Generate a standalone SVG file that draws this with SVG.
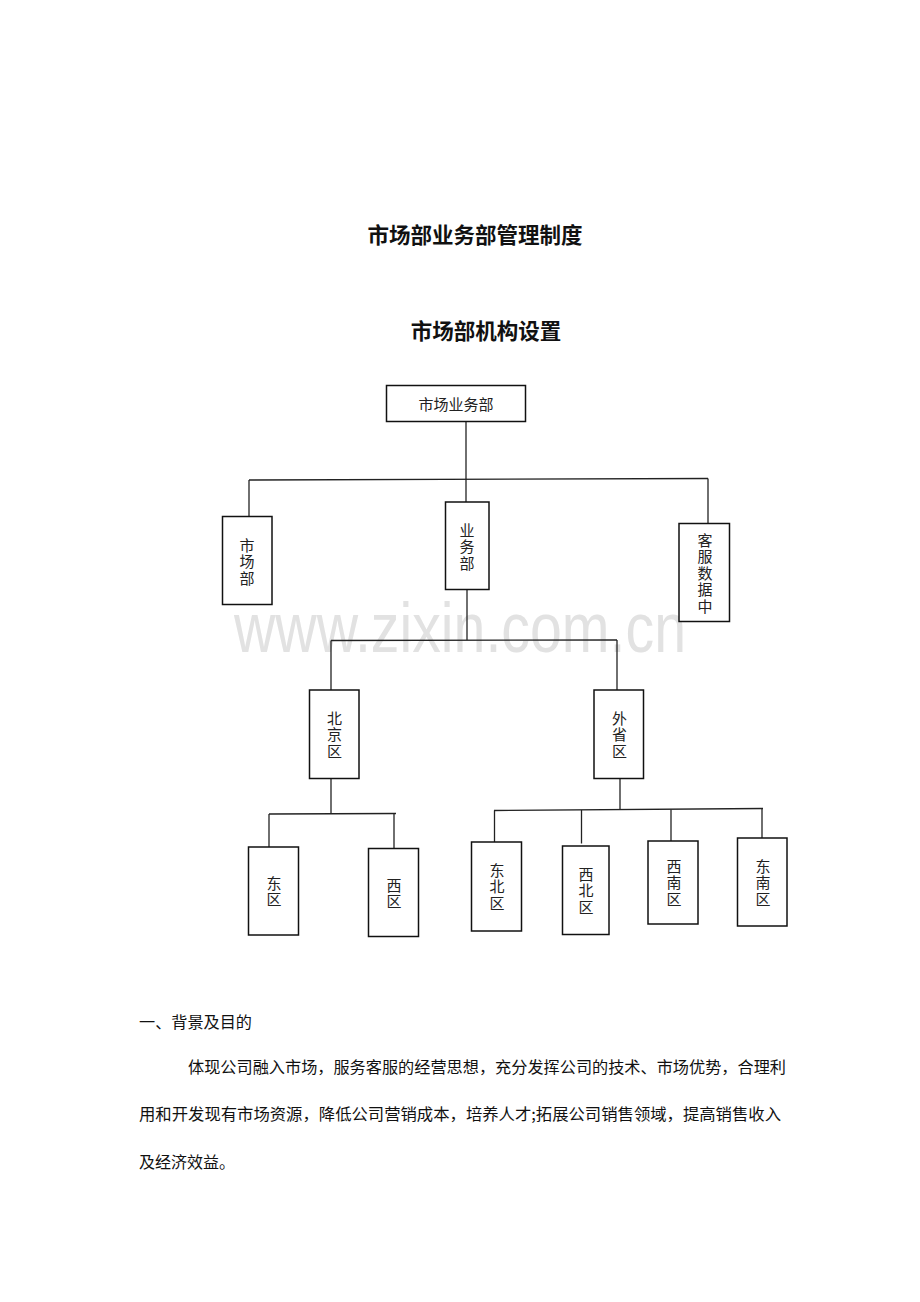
<svg xmlns="http://www.w3.org/2000/svg" width="920" height="1302" viewBox="0 0 920 1302">
<style>
.bg{fill:#ffffff}
.box{fill:#ffffff;stroke:#111;stroke-width:1.5}
.con{stroke:#222;stroke-width:1.3;fill:none}
.nt{font-family:"Noto Sans CJK SC","Noto Sans CJK JP",sans-serif;font-size:15px;fill:#222;text-anchor:middle;dominant-baseline:central}
.vt{font-family:"Noto Sans CJK SC","Noto Sans CJK JP",sans-serif;font-size:15px;fill:#222;writing-mode:vertical-rl;text-orientation:upright;letter-spacing:1.5px}
.h{font-family:"Noto Sans CJK SC","Noto Sans CJK JP",sans-serif;font-size:21.5px;font-weight:bold;fill:#111;text-anchor:middle;dominant-baseline:central}
.p{font-family:"Noto Sans CJK SC","Noto Sans CJK JP",sans-serif;font-size:16px;fill:#111;dominant-baseline:central}
.wm{font-family:"Liberation Sans",Arial,sans-serif;font-size:70px;fill:#e2e2e2}
</style>
<rect class="bg" x="0" y="0" width="920" height="1302"/>
<text class="wm" x="234" y="652" textLength="452" lengthAdjust="spacingAndGlyphs">www.zixin.com.cn</text>
<text class="h" x="475" y="233">市场部业务部管理制度</text>
<text class="h" x="486" y="329">市场部机构设置</text>
<g id="connectors">
<line class="con" x1="466" y1="421" x2="466" y2="502"/>
<line class="con" x1="249" y1="480" x2="708" y2="478.5"/>
<line class="con" x1="249" y1="480" x2="249" y2="516"/>
<line class="con" x1="708" y1="478.5" x2="708" y2="523"/>
<line class="con" x1="467" y1="589" x2="467" y2="640"/>
<line class="con" x1="331" y1="640.5" x2="617" y2="640"/>
<line class="con" x1="331" y1="640.5" x2="331" y2="690"/>
<line class="con" x1="617" y1="640" x2="617" y2="690"/>
<line class="con" x1="331" y1="778" x2="331" y2="813.5"/>
<line class="con" x1="269" y1="814" x2="396" y2="813.5"/>
<line class="con" x1="269" y1="814" x2="269" y2="847"/>
<line class="con" x1="394" y1="813.5" x2="394" y2="848"/>
<line class="con" x1="620" y1="778" x2="620" y2="809.5"/>
<line class="con" x1="494" y1="810.5" x2="763" y2="808.5"/>
<line class="con" x1="494.5" y1="810.5" x2="494.5" y2="842"/>
<line class="con" x1="581.5" y1="810" x2="581.5" y2="843.5"/>
<line class="con" x1="671" y1="809.5" x2="671" y2="841"/>
<line class="con" x1="762" y1="808.5" x2="762" y2="838"/>
</g>
<g id="n-top">
<rect class="box" x="386.5" y="385.5" width="139" height="36"/>
<text class="nt" x="456" y="403" font-size="15.5">市场业务部</text>
</g>
<g id="n-market">
<rect class="box" x="222.5" y="516.5" width="49.5" height="88"/>
<text class="vt" x="247" y="537.5" letter-spacing="2">市场部</text>
</g>
<g id="n-business">
<rect class="box" x="445.5" y="502" width="43.5" height="87.5"/>
<text class="vt" x="467" y="522.5">业务部</text>
</g>
<g id="n-service">
<rect class="box" x="679" y="523.5" width="50.5" height="98"/>
<text class="vt" x="705" y="532.5">客服数据中</text>
</g>
<g id="n-beijing">
<rect class="box" x="309.5" y="690" width="49.5" height="88.5"/>
<text class="vt" x="334.5" y="710.5" letter-spacing="1">北京区</text>
</g>
<g id="n-waisheng">
<rect class="box" x="594" y="690" width="49.5" height="88.5"/>
<text class="vt" x="619.5" y="710.5" letter-spacing="1">外省区</text>
</g>
<g id="n-east">
<rect class="box" x="248.5" y="847" width="50" height="88"/>
<text class="vt" x="274" y="875.5">东区</text>
</g>
<g id="n-west">
<rect class="box" x="368.5" y="848.5" width="50" height="88"/>
<text class="vt" x="394" y="877.5">西区</text>
</g>
<g id="n-northeast">
<rect class="box" x="471.5" y="842" width="50" height="89"/>
<text class="vt" x="497" y="862.5">东北区</text>
</g>
<g id="n-northwest">
<rect class="box" x="562.5" y="846" width="46.5" height="88.5"/>
<text class="vt" x="586" y="866.5">西北区</text>
</g>
<g id="n-southwest">
<rect class="box" x="648" y="841" width="50" height="83"/>
<text class="vt" x="674" y="858.5">西南区</text>
</g>
<g id="n-southeast">
<rect class="box" x="737.5" y="838" width="49.5" height="88"/>
<text class="vt" x="763" y="858.5">东南区</text>
</g>
<text class="p" x="139" y="1021" font-size="15" textLength="113" lengthAdjust="spacingAndGlyphs">一、背景及目的</text>
<text class="p" x="188" y="1066" textLength="598" lengthAdjust="spacingAndGlyphs">体现公司融入市场，服务客服的经营思想，充分发挥公司的技术、市场优势，合理利</text>
<text class="p" x="139" y="1113" textLength="642" lengthAdjust="spacingAndGlyphs">用和开发现有市场资源，降低公司营销成本，培养人才;拓展公司销售领域，提高销售收入</text>
<text class="p" x="139" y="1161">及经济效益。</text>
</svg>
